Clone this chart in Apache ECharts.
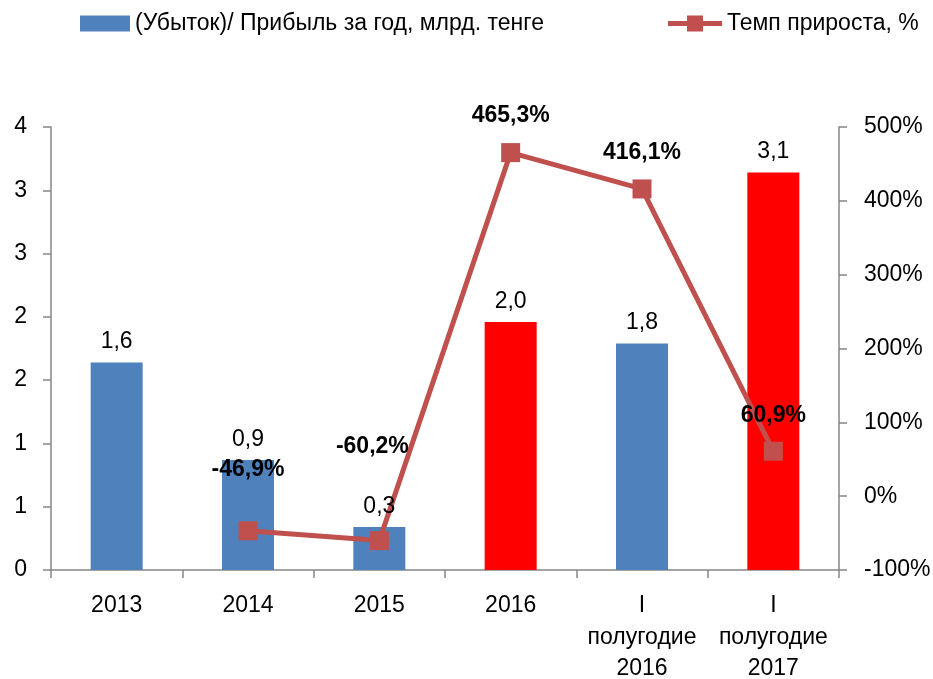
<!DOCTYPE html>
<html>
<head>
<meta charset="utf-8">
<script src="https://cdn.jsdelivr.net/npm/echarts@6/dist/echarts.min.js"></script>
<style>html,body{margin:0;padding:0;background:#fff}#c{width:933px;height:679px}</style>
</head>
<body>
<div id="c"></div>
<script>
const categories = ['2013', '2014', '2015', '2016', 'I\nполугодие\n2016', 'I\nполугодие\n2017'];
const profit = [1.64, 0.87, 0.34, 1.96, 1.79, 3.14];
const growth = [null, -46.9, -60.2, 465.3, 416.1, 60.9];
const leftTicks = { min: 0, max: 3.5, interval: 0.5 };
const rightTicks = { min: -100, max: 500, interval: 100 };
const seriesNames = ['(Убыток)/ Прибыль за год, млрд. тенге', 'Темп прироста, %'];
const redIdx = [3, 5];

const FONT = 'Liberation Sans';
const FS = 23;
const labelOffsets = [[0, 0], [0, -61], [-7, -94], [0, -37], [0, -36], [0, -36]];

const barData = profit.map((v, i) => redIdx.includes(i) ? { value: v, itemStyle: { color: '#FF0000' } } : { value: v });
const lineData = growth.map((v, i) => v === null ? null : { value: v, label: { offset: labelOffsets[i] } });
const fmt = n => n.toFixed(1).replace('.', ',');

const legendText = { fontFamily: FONT, fontSize: FS, color: '#000' };
const chart = echarts.init(document.getElementById('c'), null, { renderer: 'canvas' });
chart.setOption({
  animation: false,
  textStyle: { fontFamily: FONT },
  legend: [
    {
      left: 80, top: 12, padding: 0, itemWidth: 50, itemHeight: 16,
      textStyle: legendText,
      data: [{ name: seriesNames[0], icon: 'rect' }]
    },
    {
      left: 668, top: 12, padding: 0, itemWidth: 54, itemHeight: 16,
      textStyle: legendText,
      data: [{ name: seriesNames[1], icon: 'path://M0,5.5 L19,5.5 L19,0 L35,0 L35,5.5 L54,5.5 L54,10.5 L35,10.5 L35,16 L19,16 L19,10.5 L0,10.5 Z', itemStyle: { color: '#C0504D' } }]
    }
  ],
  grid: { left: 51, right: 94, top: 127, bottom: 109, outerBoundsMode: 'none', containLabel: false },
  xAxis: {
    type: 'category', data: categories, boundaryGap: true,
    axisLine: { lineStyle: { color: '#868686', width: 1.5 } },
    axisTick: { show: true, interval: 0, length: 8, lineStyle: { color: '#868686', width: 1.5 } },
    axisLabel: { interval: 0, color: '#000', fontFamily: FONT, fontSize: FS, lineHeight: 31.5, margin: 20 }
  },
  yAxis: [
    {
      type: 'value', min: leftTicks.min, max: leftTicks.max, interval: leftTicks.interval,
      splitLine: { show: false },
      axisLine: { show: true, lineStyle: { color: '#868686', width: 1.5 } },
      axisTick: { show: true, length: 8, lineStyle: { color: '#868686', width: 1.5 } },
      axisLabel: { color: '#000', fontFamily: FONT, fontSize: FS, margin: 24, formatter: v => String(Math.round(v)) }
    },
    {
      type: 'value', min: rightTicks.min, max: rightTicks.max, interval: rightTicks.interval,
      splitLine: { show: false },
      axisLine: { show: true, lineStyle: { color: '#868686', width: 1.5 } },
      axisTick: { show: true, length: 8, lineStyle: { color: '#868686', width: 1.5 } },
      axisLabel: { color: '#000', fontFamily: FONT, fontSize: FS, margin: 25, formatter: '{value}%' }
    }
  ],
  series: [
    {
      name: seriesNames[0], type: 'bar', data: barData, barWidth: 52,
      itemStyle: { color: '#4F81BD' }, z: 2
    },
    {
      name: seriesNames[1], type: 'line', yAxisIndex: 1, data: lineData,
      connectNulls: false,
      symbol: 'rect', symbolSize: 19,
      lineStyle: { color: '#C0504D', width: 5 },
      itemStyle: { color: '#C0504D' },
      label: { show: true, position: 'inside', color: '#000', fontWeight: 'bold', fontFamily: FONT, fontSize: FS, formatter: p => fmt(p.value) + '%' },
      z: 5
    },
    {
      name: 'barLabels', type: 'scatter', data: profit, symbolSize: 0, silent: true, z: 10,
      itemStyle: { opacity: 1 },
      label: { show: true, position: 'top', distance: 9, color: '#000', opacity: 1, fontFamily: FONT, fontSize: FS, formatter: p => fmt(p.value) }
    }
  ]
});
</script>
</body>
</html>
